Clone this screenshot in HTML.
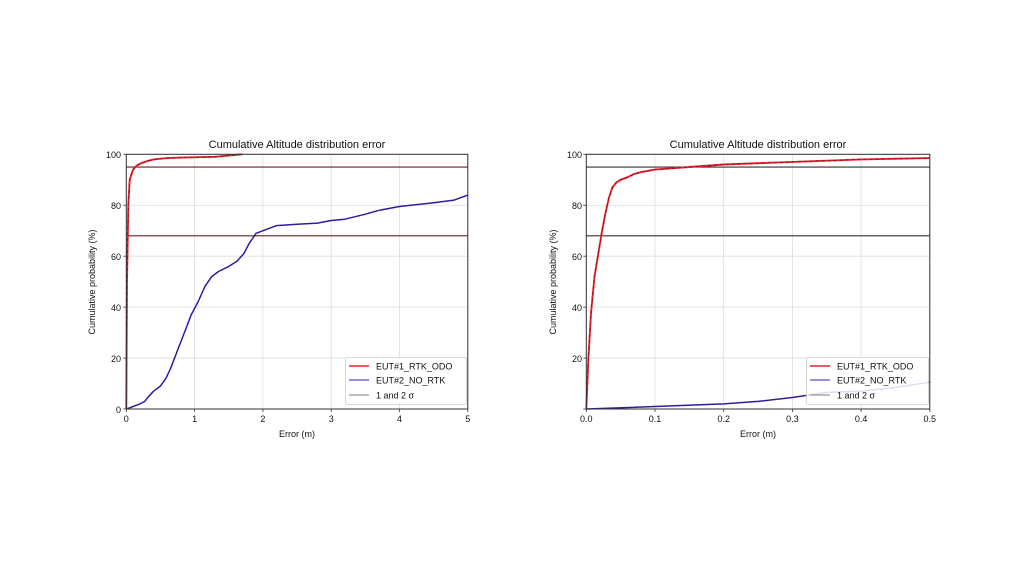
<!DOCTYPE html>
<html><head><meta charset="utf-8"><style>
html,body{margin:0;padding:0;background:#fff;width:1024px;height:576px;overflow:hidden}
svg text{font-family:"Liberation Sans","DejaVu Sans",sans-serif;fill:#111}
</style></head><body>
<svg id="s" width="1024" height="576" viewBox="0 0 1024 576">
<rect width="1024" height="576" fill="#fff"/>
<g id="g1"></g><g id="g2"></g>
<text x="297" y="148" font-size="11" text-anchor="middle">Cumulative Altitude distribution error</text>
<g font-size="9" text-anchor="end">
<text x="121" y="158">100</text><text x="121" y="209">80</text><text x="121" y="260">60</text><text x="121" y="311">40</text><text x="121" y="362">20</text><text x="121" y="413">0</text>
</g>
<g font-size="9" text-anchor="middle">
<text x="126.3" y="422">0</text><text x="194.6" y="422">1</text><text x="262.9" y="422">2</text><text x="331.2" y="422">3</text><text x="399.5" y="422">4</text><text x="467.8" y="422">5</text>
</g>
<text x="297" y="437" font-size="9" text-anchor="middle">Error (m)</text>
<text transform="translate(95,282) rotate(-90)" font-size="9" text-anchor="middle">Cumulative probability (%)</text>
<text x="758" y="148" font-size="11" text-anchor="middle">Cumulative Altitude distribution error</text>
<g font-size="9" text-anchor="end">
<text x="582" y="158">100</text><text x="582" y="209">80</text><text x="582" y="260">60</text><text x="582" y="311">40</text><text x="582" y="362">20</text>
</g>
<g font-size="9" text-anchor="middle">
<text x="586.3" y="422">0.0</text><text x="655" y="422">0.1</text><text x="723.7" y="422">0.2</text><text x="792.4" y="422">0.3</text><text x="861.1" y="422">0.4</text><text x="929.8" y="422">0.5</text>
</g>
<text x="758" y="437" font-size="9" text-anchor="middle">Error (m)</text>
<text transform="translate(556,282) rotate(-90)" font-size="9" text-anchor="middle">Cumulative probability (%)</text>
<g>
<rect x="345.5" y="357.5" width="121" height="47" fill="#fff" fill-opacity="0.85" stroke="#ccc" stroke-width="0.8" rx="2"/>
<line x1="349" y1="366" x2="369" y2="366" stroke="#e8202a" stroke-width="1.6"/>
<line x1="349" y1="380" x2="369" y2="380" stroke="#3a18c8" stroke-width="1"/>
<line x1="349" y1="395" x2="369" y2="395" stroke="#999" stroke-width="1.2"/>
<text x="376" y="369.5" font-size="9">EUT#1_RTK_ODO</text>
<text x="376" y="383.5" font-size="9">EUT#2_NO_RTK</text>
<text x="376" y="398.5" font-size="9">1 and 2 σ</text>
</g>
<g>
<rect x="806.5" y="357.5" width="122" height="47" fill="#fff" fill-opacity="0.85" stroke="#ccc" stroke-width="0.8" rx="2"/>
<line x1="810" y1="366" x2="830" y2="366" stroke="#e8202a" stroke-width="1.6"/>
<line x1="810" y1="380" x2="830" y2="380" stroke="#3a18c8" stroke-width="1"/>
<line x1="810" y1="395" x2="830" y2="395" stroke="#999" stroke-width="1.2"/>
<text x="837" y="369.5" font-size="9">EUT#1_RTK_ODO</text>
<text x="837" y="383.5" font-size="9">EUT#2_NO_RTK</text>
<text x="837" y="398.5" font-size="9">1 and 2 σ</text>
</g>
</svg>
<script>
function chart(gid,x0,x1,xmax,xt,red,blue,hcol){
 var y0=409,y1=154.3,g=document.getElementById(gid),h='';
 function X(v){return x0+(x1-x0)*v/xmax} function Y(v){return y0-(y0-y1)*v/100}
 for(var i=0;i<xt.length;i++){h+='<line x1="'+X(xt[i])+'" y1="'+y1+'" x2="'+X(xt[i])+'" y2="'+y0+'" stroke="#ddd" stroke-width="0.8"/>';
  h+='<line x1="'+X(xt[i])+'" y1="'+y0+'" x2="'+X(xt[i])+'" y2="'+(y0+3)+'" stroke="#333" stroke-width="0.8"/>';}
 for(var v=0;v<=100;v+=20){h+='<line x1="'+x0+'" y1="'+Y(v)+'" x2="'+x1+'" y2="'+Y(v)+'" stroke="#ddd" stroke-width="0.8"/>';
  h+='<line x1="'+(x0-3)+'" y1="'+Y(v)+'" x2="'+x0+'" y2="'+Y(v)+'" stroke="#333" stroke-width="0.8"/>';}
 function p(d){return d.map(function(q,i){return (i?'L':'M')+X(q[0]).toFixed(1)+','+Y(q[1]).toFixed(1)}).join('')}
 h+='<line x1="'+x0+'" y1="'+Y(95)+'" x2="'+x1+'" y2="'+Y(95)+'" stroke="'+hcol+'" stroke-width="1.1"/>';
 h+='<line x1="'+x0+'" y1="'+Y(68)+'" x2="'+x1+'" y2="'+Y(68)+'" stroke="'+hcol+'" stroke-width="1.1"/>';
 h+='<path d="'+p(blue)+'" fill="none" stroke="#3a18c8" stroke-width="1.5" stroke-linejoin="round"/>';
 h+='<path d="'+p(blue)+'" fill="none" stroke="#222" stroke-width="0.6" stroke-dasharray="3,3"/>';
 h+='<path d="'+p(red)+'" fill="none" stroke="#e8202a" stroke-width="1.9" stroke-linejoin="round"/>';
 h+='<path d="'+p(red)+'" fill="none" stroke="#5a1020" stroke-width="0.6" stroke-dasharray="3,3"/>';
 h+='<rect x="'+x0+'" y="'+y1+'" width="'+(x1-x0)+'" height="'+(y0-y1)+'" fill="none" stroke="#333" stroke-width="1"/>';
 g.innerHTML=h;
}
chart('g1',126.3,467.8,5,[0,1,2,3,4,5],
 [[0,0],[0.01,50],[0.03,80],[0.05,90],[0.1,94],[0.15,95.5],[0.2,96.3],[0.3,97.3],[0.4,98],[0.6,98.5],[0.8,98.7],[1.3,99],[1.5,99.5],[1.7,100]],
 [[0,0],[0.1,1],[0.2,2],[0.27,3],[0.33,5],[0.4,7],[0.5,9],[0.58,12],[0.65,16],[0.75,23],[0.85,30],[0.95,37],[1.05,42],[1.15,48],[1.25,52],[1.35,54],[1.5,56],[1.62,58],[1.72,61],[1.8,65],[1.9,69],[2.05,70.5],[2.2,72],[2.5,72.5],[2.8,73],[3.0,74],[3.2,74.5],[3.5,76.5],[3.7,78],[4.0,79.5],[4.5,81],[4.8,82],[5,84]],'#6a2020');
chart('g2',586.3,929.8,0.5,[0,0.1,0.2,0.3,0.4,0.5],
 [[0,0],[0.003,20],[0.007,38],[0.012,52],[0.018,62],[0.023,70],[0.028,77],[0.033,83],[0.038,87],[0.044,89],[0.05,90],[0.06,91],[0.07,92.3],[0.08,93],[0.1,94],[0.15,95],[0.2,96],[0.3,97],[0.4,98],[0.5,98.5]],
 [[0,0],[0.1,1],[0.2,2],[0.25,3],[0.3,4.5],[0.35,6.5],[0.4,7],[0.45,8.5],[0.5,10.5]],'#333');
</script>
</body></html>
